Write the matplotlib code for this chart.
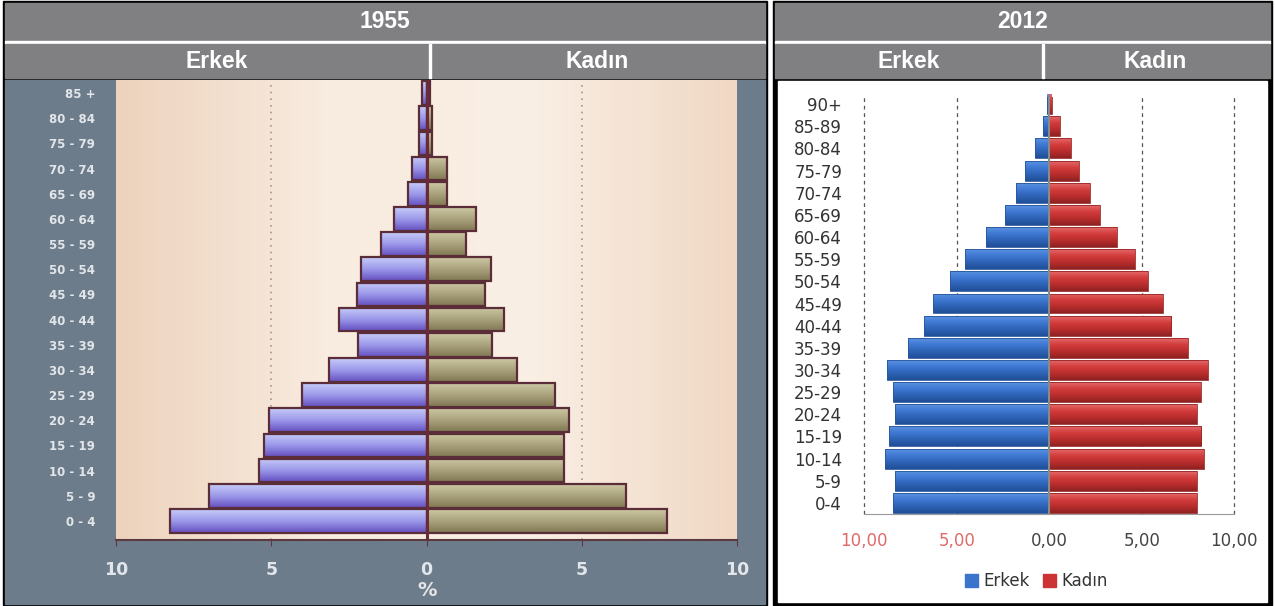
import numpy as np
import matplotlib
matplotlib.use("Agg")
import matplotlib.pyplot as plt
from matplotlib.patches import Rectangle
from matplotlib.colors import LinearSegmentedColormap

W, H = 1275, 606

# 1955 pyramid (percent)
ages_1955 = ["0 - 4", "5 - 9", "10 - 14", "15 - 19", "20 - 24", "25 - 29", "30 - 34",
             "35 - 39", "40 - 44", "45 - 49", "50 - 54", "55 - 59", "60 - 64",
             "65 - 69", "70 - 74", "75 - 79", "80 - 84", "85 +"]
erkek_1955 = [8.26, 7.0, 5.4, 5.24, 5.08, 4.0, 3.15, 2.2, 2.83, 2.25, 2.12, 1.48, 1.06,
              0.6, 0.47, 0.25, 0.25, 0.15]
kadin_1955 = [7.75, 6.43, 4.44, 4.44, 4.6, 4.15, 2.93, 2.12, 2.5, 1.87, 2.09, 1.27, 1.6,
              0.65, 0.65, 0.18, 0.18, 0.12]

# 2012 pyramid (percent)
ages_2012 = ["0-4", "5-9", "10-14", "15-19", "20-24", "25-29", "30-34", "35-39",
             "40-44", "45-49", "50-54", "55-59", "60-64", "65-69", "70-74",
             "75-79", "80-84", "85-89", "90+"]
erkek_2012 = [8.43, 8.36, 8.86, 8.68, 8.36, 8.43, 8.76, 7.62, 6.79, 6.27, 5.38, 4.57,
              3.42, 2.39, 1.78, 1.33, 0.79, 0.32, 0.14]
kadin_2012 = [7.97, 7.97, 8.36, 8.22, 7.97, 8.18, 8.58, 7.5, 6.6, 6.16, 5.33, 4.61,
              3.64, 2.72, 2.2, 1.6, 1.15, 0.56, 0.15]

ticks_1955 = [-10, -5, 0, 5, 10]
tick_labels_1955 = ["10", "5", "0", "5", "10"]
ticks_2012 = [-10, -5, 0, 5, 10]
tick_labels_2012 = ["10,00", "5,00", "0,00", "5,00", "10,00"]


def box(x0, y0, x1, y1):
    return [x0 / W, 1 - y1 / H, (x1 - x0) / W, (y1 - y0) / H]


def grad_bars(ax, ys, vals, colors, height, edge, lw):
    bars = ax.barh(ys, vals, height=height, color="none", edgecolor=edge,
                   linewidth=lw, zorder=4)
    cmap = LinearSegmentedColormap.from_list("g", colors)
    grad = np.linspace(0, 1, 64).reshape(-1, 1)
    for b in bars:
        x0, w = b.get_x(), b.get_width()
        y0, h = b.get_y(), b.get_height()
        im = ax.imshow(grad, cmap=cmap, aspect="auto", origin="upper",
                       extent=(x0, x0 + w, y0, y0 + h), zorder=3,
                       interpolation="bilinear")
        im.set_clip_path(b)
    return bars


fig = plt.figure(figsize=(W / 100, H / 100), dpi=100)

# frame / header canvas in pixel coordinates
bg = fig.add_axes([0, 0, 1, 1])
bg.set_xlim(0, W)
bg.set_ylim(H, 0)
bg.axis("off")

hdr = "#808083"
for (x0, x1, div, year, xe, xk) in [(5, 765, 430, "1955", 217, 597),
                                     (775, 1270, 1043, "2012", 909, 1155)]:
    bg.add_patch(Rectangle((x0 - 2, 1), x1 - x0 + 4, 604, color="black"))
    bg.add_patch(Rectangle((x0, 3), x1 - x0, 38, color=hdr))
    bg.add_patch(Rectangle((x0, 41), x1 - x0, 3, color="white"))
    bg.add_patch(Rectangle((x0, 44), x1 - x0, 34, color=hdr))
    bg.add_patch(Rectangle((div - 1, 44), 2, 34, color="white"))
    bg.text((x0 + x1) / 2, 22, year, color="white", ha="center", va="center",
            fontsize=16.5, fontweight="bold", family="Liberation Sans")
    bg.text(xe, 61, "Erkek", color="white", ha="center", va="center",
            fontsize=16.5, fontweight="bold", family="Liberation Sans")
    bg.text(xk, 61, "Kadın", color="white", ha="center", va="center",
            fontsize=16.5, fontweight="bold", family="Liberation Sans")

bg.add_patch(Rectangle((5, 80), 760, 524, color="#6d7c8b"))
bg.add_patch(Rectangle((778, 81), 489, 521, color="white"))
bg.text(427, 590, "%", color="#e3e6ea", ha="center", va="center",
        fontsize=14, fontweight="bold")

# ---- 1955 ----
ax1 = fig.add_axes(box(116, 80, 737, 540))
y1 = np.arange(len(ages_1955))
ylo1, yhi1 = -0.755, 17.52
beige = LinearSegmentedColormap.from_list("b", ["#edd3bd", "#f8ebdf", "#faefe5", "#f0d8c4"])
ax1.imshow(np.linspace(0, 1, 200).reshape(1, -1), cmap=beige, aspect="auto",
           extent=(-10, 10, ylo1, yhi1), zorder=0)
for g in [-5, 5]:
    ax1.axvline(g, color="#a8958b", lw=1.2, ls=(0, (1, 3)), zorder=1)
grad_bars(ax1, y1, [-v for v in erkek_1955], ["#c6ccf8", "#9c98ea", "#6450c0"],
          0.94, "#5a2d38", 1.6)
grad_bars(ax1, y1, kadin_1955, ["#cdc8a4", "#a9a27c", "#7f7852"],
          0.94, "#5a2d38", 1.6)
ax1.axvline(0, color="#6b2a38", lw=2.2, zorder=5)
ax1.set_xlim(-10, 10)
ax1.set_ylim(ylo1, yhi1)
ax1.set_yticks(y1)
ax1.set_yticklabels(ages_1955)
ax1.set_xticks(ticks_1955)
ax1.set_xticklabels(tick_labels_1955)
ax1.tick_params(axis="y", length=0, pad=15, labelsize=8.5, labelcolor="#e2e6ea")
ax1.tick_params(axis="x", length=4, color="#5a3a40", pad=11, labelsize=12.5,
                labelcolor="#e2e6ea")
for lab in ax1.get_xticklabels() + ax1.get_yticklabels():
    lab.set_fontweight("bold")
for s in ["top", "right", "left"]:
    ax1.spines[s].set_visible(False)
ax1.spines["bottom"].set_color("#5a3a40")
ax1.spines["bottom"].set_linewidth(1.5)

# ---- 2012 ----
ax2 = fig.add_axes(box(864.3, 97, 1234.3, 514))
y2 = np.arange(len(ages_2012))
for g in [-10, -5, 5, 10]:
    ax2.axvline(g, color="#555555", lw=0.9, ls=(0, (3, 3)), zorder=1, clip_on=False)
grad_bars(ax2, y2, [-v for v in erkek_2012], ["#5b92e0", "#3d78d2", "#2e62b4", "#1f4f98"],
          0.9, "#2a559a", 0.6)
grad_bars(ax2, y2, kadin_2012, ["#e46a6a", "#d23c3c", "#b92d2d", "#8f2222"],
          0.9, "#962626", 0.6)
ax2.axvline(0, color="#8a8a8a", lw=1.5, zorder=5)
ax2.set_xlim(-10, 10)
ax2.set_ylim(-0.5, 18.32)
ax2.set_yticks(y2)
ax2.set_yticklabels(ages_2012)
ax2.set_xticks(ticks_2012)
ax2.set_xticklabels(tick_labels_2012)
ax2.tick_params(axis="y", length=0, pad=16, labelsize=12, labelcolor="#333333")
ax2.tick_params(axis="x", length=0, pad=13, labelsize=12, labelcolor="#444444")
for lab in ax2.get_xticklabels()[:2]:
    lab.set_color("#e06a6a")
for s in ["top", "right", "left"]:
    ax2.spines[s].set_visible(False)
ax2.spines["bottom"].set_color("#999999")
ax2.set_facecolor("none")

handles = [Rectangle((0, 0), 1, 1, color="#3a74cc"), Rectangle((0, 0), 1, 1, color="#cc3434")]
fig.legend(handles, ["Erkek", "Kadın"], loc="center", bbox_to_anchor=(1036 / W, 1 - 581 / H),
           ncol=2, frameon=False, fontsize=12, handlelength=0.8, handleheight=0.8,
           handletextpad=0.3, columnspacing=0.8, labelcolor="#333333")

fig.savefig("out.png", dpi=100)
